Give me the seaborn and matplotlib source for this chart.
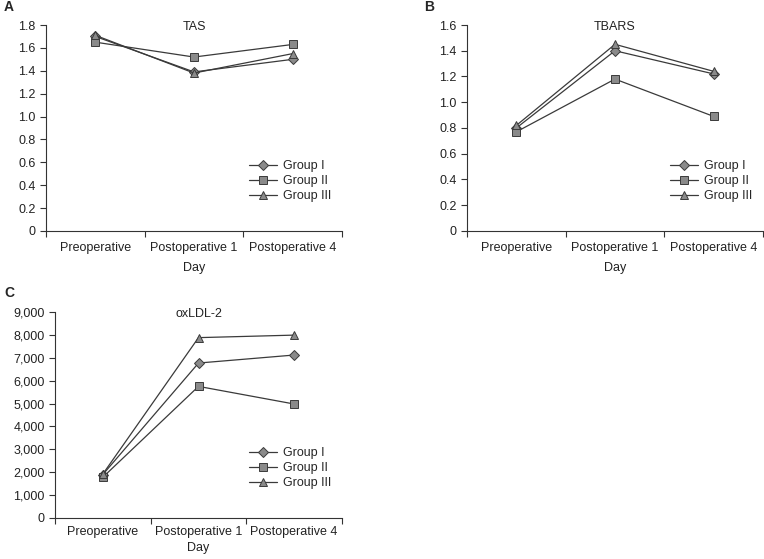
import numpy as np
import pandas as pd
import seaborn as sns
import matplotlib.pyplot as plt
from matplotlib.ticker import FixedLocator, FuncFormatter

days = ["Preoperative", "Postoperative 1", "Postoperative 4"]
groups = ["Group I", "Group II", "Group III"]

# TAS
tas_g1 = [1.70, 1.39, 1.50]
tas_g2 = [1.65, 1.52, 1.63]
tas_g3 = [1.71, 1.38, 1.55]
# TBARS
tbars_g1 = [0.80, 1.40, 1.22]
tbars_g2 = [0.77, 1.18, 0.89]
tbars_g3 = [0.82, 1.45, 1.24]
# oxLDL-2
ox_g1 = [1900, 6770, 7120]
ox_g2 = [1780, 5750, 4980]
ox_g3 = [1920, 7880, 7990]

markers = {"Group I": ("D", 4.6), "Group II": ("s", 5.2), "Group III": ("^", 6.2)}

sns.set_style("ticks")
plt.rcParams['font.family'] = ['Liberation Sans', 'DejaVu Sans']
plt.rcParams['font.size'] = 9

LINE = "#3a3a3a"
FILL = "#8a8a8a"
TXT = "#222222"


def make_df(g1, g2, g3):
    rows = []
    for g, vals in zip(groups, [g1, g2, g3]):
        for d, v in zip(days, vals):
            rows.append({"Day": d, "Group": g, "Value": v})
    return pd.DataFrame(rows)


def draw(ax, df, title, ymax, ystep, thousands=False, pad=8, labelpad=6):
    for g in groups:
        m, ms = markers[g]
        sns.lineplot(data=df[df["Group"] == g], x="Day", y="Value", ax=ax,
                     color=LINE, marker=m, markersize=ms, linewidth=0.9,
                     markerfacecolor=FILL, markeredgecolor=LINE,
                     markeredgewidth=0.7, label=g, sort=False)
    ax.set_xlim(-0.5, 2.5)
    ax.set_ylim(0, ymax)
    ax.set_yticks(np.arange(0, ymax + ystep / 2, ystep))
    if thousands:
        ax.yaxis.set_major_formatter(FuncFormatter(lambda v, p: f"{int(round(v)):,}"))
    else:
        ax.yaxis.set_major_formatter(FuncFormatter(lambda v, p: "0" if v == 0 else f"{v:.1f}"))
    ax.xaxis.set_major_locator(FixedLocator([-0.5, 0.5, 1.5, 2.5]))
    ax.xaxis.set_major_formatter(FuncFormatter(lambda v, p: ""))
    ax.xaxis.set_minor_locator(FixedLocator([0, 1, 2]))
    ax.set_xticklabels(days, minor=True)
    ax.tick_params(axis="x", which="minor", length=0, pad=pad, labelsize=9, colors=TXT)
    ax.tick_params(axis="x", which="major", length=4, width=0.8, color="#333333")
    ax.tick_params(axis="y", length=4, width=0.8, color="#333333", labelsize=9, labelcolor=TXT)
    for s in ["left", "bottom"]:
        ax.spines[s].set_color("#333333")
        ax.spines[s].set_linewidth(0.8)
    sns.despine(ax=ax)
    ax.set_xlabel("Day", fontsize=9, color=TXT, labelpad=labelpad)
    ax.set_ylabel("")
    ax.text(0.5, 0.99, title, transform=ax.transAxes, ha="center", va="center",
            fontsize=9, color=TXT)
    ax.legend(loc="lower right", bbox_to_anchor=(0.98, 0.115), frameon=False,
              fontsize=9, handlelength=2.2, handletextpad=0.5, labelspacing=0.25,
              borderaxespad=0)


fig = plt.figure(figsize=(7.64, 5.59), dpi=100)
W, H = 764, 559
axA = fig.add_axes([46 / W, 1 - 231 / H, (342 - 46) / W, (231 - 25) / H])
axB = fig.add_axes([467 / W, 1 - 231 / H, (763 - 467) / W, (231 - 25) / H])
axC = fig.add_axes([55 / W, 1 - 518 / H, (342 - 55) / W, (518 - 312) / H])

draw(axA, make_df(tas_g1, tas_g2, tas_g3), "TAS", 1.8, 0.2)
draw(axB, make_df(tbars_g1, tbars_g2, tbars_g3), "TBARS", 1.6, 0.2)
draw(axC, make_df(ox_g1, ox_g2, ox_g3), "oxLDL-2", 9000, 1000, thousands=True,
     pad=6, labelpad=3)

for lab, x, y in [("A", 4, 7), ("B", 424, 7), ("C", 4, 293)]:
    fig.text(x / W, 1 - y / H, lab, fontsize=10, fontweight="bold", ha="left", va="center")

fig.savefig("out.png", dpi=100)
